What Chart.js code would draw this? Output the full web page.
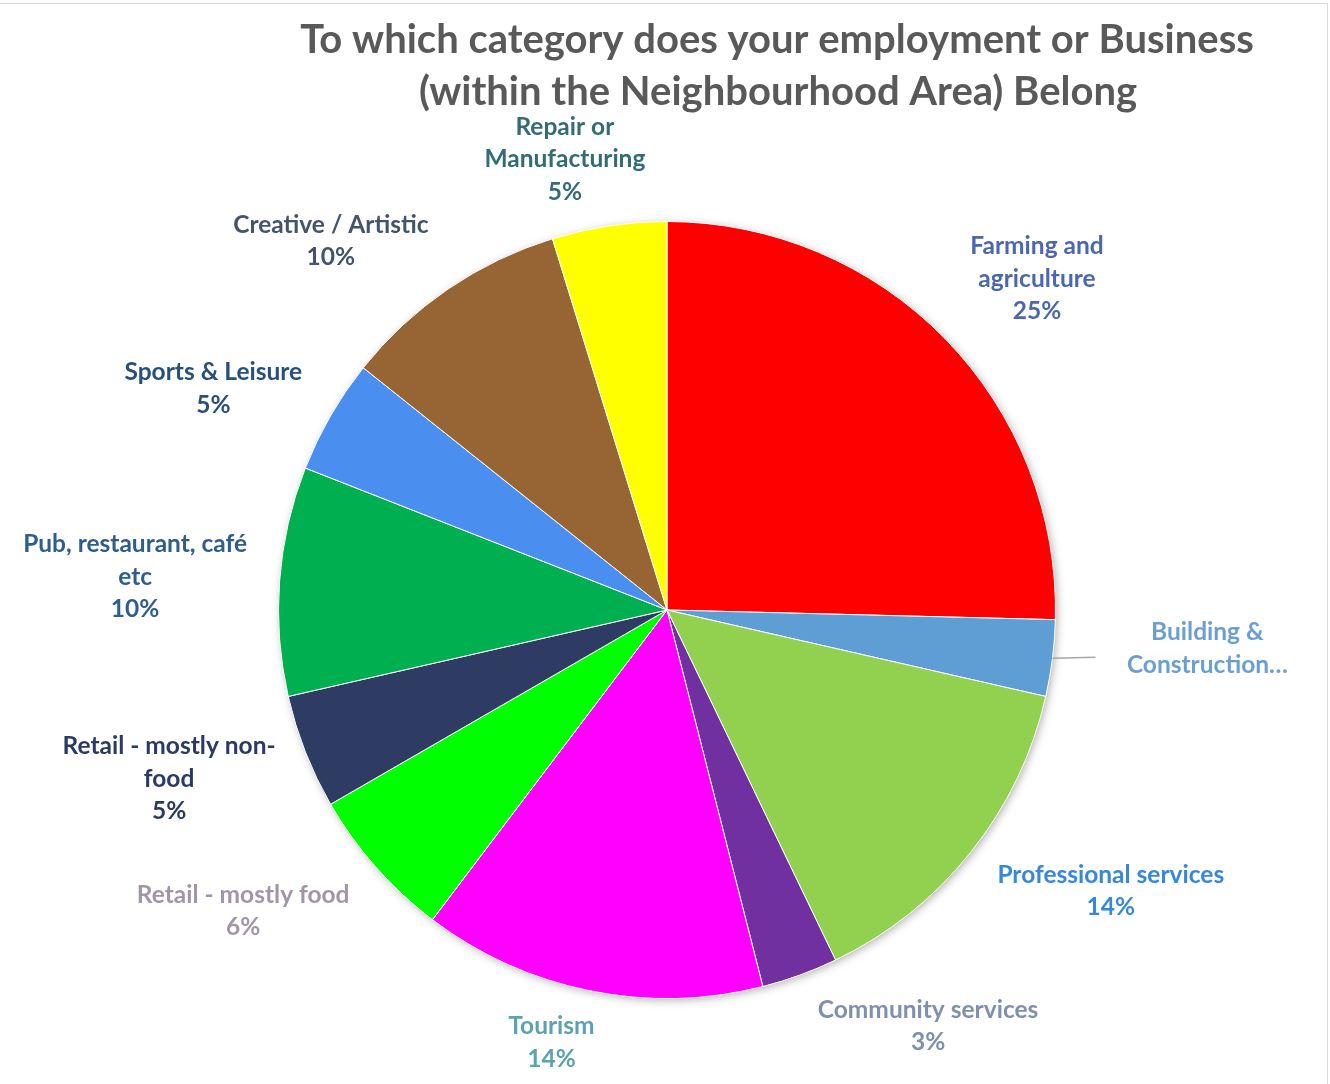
<!DOCTYPE html>
<html>
<head>
<meta charset="utf-8">
<title>Employment or Business category</title>
<script src="https://cdn.jsdelivr.net/npm/chart.js@4.4.1/dist/chart.umd.min.js"></script>
<style>
  html, body { margin: 0; padding: 0; background: #fff; }
  #wrap { position: relative; width: 1330px; height: 1084px; }
</style>
</head>
<body>
<div id="wrap"><canvas id="categoryChart" width="1330" height="1084"></canvas></div>
<script>
// survey answers, clockwise from 12 o'clock
const categories = ['Farming and agriculture', 'Building & Construction', 'Professional services',
  'Community services', 'Tourism', 'Retail - mostly food', 'Retail - mostly non-food',
  'Pub, restaurant, café etc', 'Sports & Leisure', 'Creative / Artistic', 'Repair or Manufacturing'];
const responses = [16, 2, 9, 2, 9, 4, 3, 6, 3, 6, 3];

// how each label wraps on the chart (Building is cut short, no percentage)
const labelLines = [
  ['Farming and', 'agriculture'],
  ['Building &', 'Construction…'],
  ['Professional services'],
  ['Community services'],
  ['Tourism'],
  ['Retail - mostly food'],
  ['Retail - mostly non-', 'food'],
  ['Pub, restaurant, café', 'etc'],
  ['Sports & Leisure'],
  ['Creative / Artistic'],
  ['Repair or', 'Manufacturing']
];
const showPercent = [true, false, true, true, true, true, true, true, true, true, true];

const sliceColors = ['#FF0000', '#5F9ED4', '#92D050', '#7030A0', '#FF00FF', '#00FF00',
  '#2E3C63', '#00B050', '#4A8EF0', '#976434', '#FFFF00'];
const labelColors = ['#4A67B0', '#6A9FD3', '#3588DC', '#7F8FAE', '#5BA3AE', '#A096A8',
  '#2B3A63', '#2F5E8E', '#27507F', '#44546A', '#336C75'];

const titleLines = ['To which category does your employment or Business',
  '(within the Neighbourhood Area) Belong'];

const FONT = 'Lato, "Open Sans", sans-serif';

// label placement: along slice mid-angle, then nudged (px)
const labelDist = 1.28;
const labelNudge = [[14, 16], [47, -23], [55, -29], [91, -51], [-17, -55], [-51, -28],
  [-35, -13], [-36, 4], [-23, 27], [-56, 42], [-28, 41]];

const total = responses.reduce((a, b) => a + b, 0);

// soft drop shadow behind the whole pie
const pieShadow = {
  id: 'pieShadow',
  beforeDatasetsDraw(chart) {
    const arc = chart.getDatasetMeta(0).data[0];
    if (!arc) return;
    const ctx = chart.ctx;
    ctx.save();
    ctx.shadowColor = 'rgba(0,0,0,0.35)';
    ctx.shadowBlur = 10;
    ctx.shadowOffsetX = 2;
    ctx.shadowOffsetY = 2;
    ctx.fillStyle = '#ffffff';
    ctx.beginPath();
    ctx.arc(arc.x, arc.y, arc.outerRadius - 1, 0, Math.PI * 2);
    ctx.fill();
    ctx.restore();
  }
};

// title, data labels, leader line and frame
const pieLabels = {
  id: 'pieLabels',
  afterDraw(chart) {
    const ctx = chart.ctx;
    const meta = chart.getDatasetMeta(0);
    ctx.save();

    // frame lines
    ctx.strokeStyle = '#D9D9D9';
    ctx.lineWidth = 1;
    ctx.beginPath();
    ctx.moveTo(0, 3.5);
    ctx.lineTo(1327.5, 3.5);
    ctx.lineTo(1327.5, 1084);
    ctx.stroke();

    // title
    ctx.fillStyle = '#595959';
    ctx.font = 'bold 40px ' + FONT;
    ctx.textAlign = 'center';
    ctx.textBaseline = 'middle';
    ctx.fillText(titleLines[0], 777, 40);
    ctx.fillText(titleLines[1], 778, 92);

    ctx.font = 'bold 24.5px ' + FONT;
    meta.data.forEach((arc, i) => {
      const mid = (arc.startAngle + arc.endAngle) / 2;
      const r = arc.outerRadius;
      const x = arc.x + Math.cos(mid) * r * labelDist + labelNudge[i][0];
      const y = arc.y + Math.sin(mid) * r * labelDist + labelNudge[i][1];
      const lines = labelLines[i].slice();
      if (showPercent[i]) lines.push(Math.round(responses[i] / total * 100) + '%');
      const lh = 32.5;
      const top = y - (lines.length - 1) * lh / 2;

      if (!showPercent[i]) {
        // leader line from slice edge to label
        const ex = arc.x + Math.cos(mid) * r;
        const ey = arc.y + Math.sin(mid) * r;
        ctx.strokeStyle = '#A6A6A6';
        ctx.lineWidth = 1.5;
        ctx.beginPath();
        ctx.moveTo(ex, ey);
        ctx.lineTo(x - 112, ey - 1);
        ctx.stroke();
      }

      ctx.fillStyle = labelColors[i];
      lines.forEach((t, j) => ctx.fillText(t, x, top + j * lh));
    });
    ctx.restore();
  }
};

new Chart(document.getElementById('categoryChart'), {
  type: 'pie',
  data: {
    labels: categories,
    datasets: [{
      data: responses,
      backgroundColor: sliceColors,
      borderColor: '#ffffff',
      borderWidth: 1
    }]
  },
  options: {
    responsive: false,
    animation: false,
    layout: { padding: { left: 278, right: 274, top: 221, bottom: 85 } },
    plugins: {
      legend: { display: false },
      title: { display: false },
      tooltip: { enabled: false }
    }
  },
  plugins: [pieShadow, pieLabels]
});
</script>
</body>
</html>
